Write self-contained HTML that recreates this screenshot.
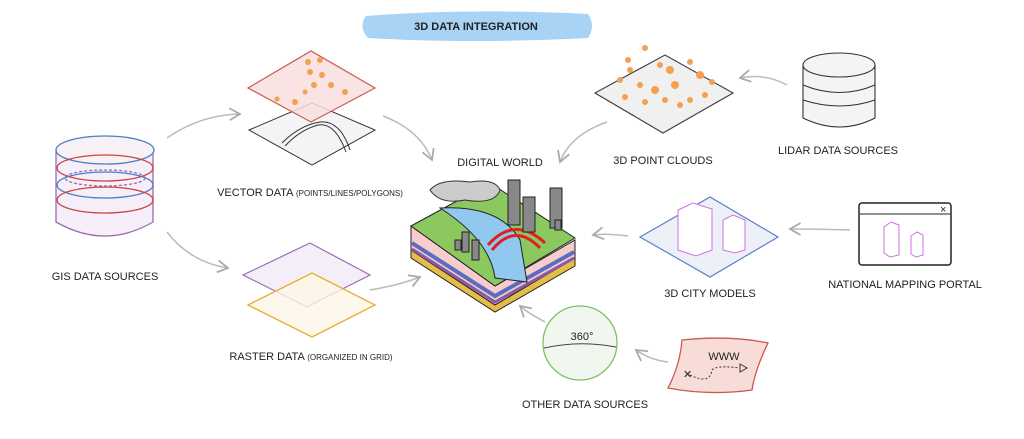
<!DOCTYPE html>
<html><head><meta charset="utf-8"><style>
html,body{margin:0;padding:0;background:#fff;}
svg{display:block}
text{font-family:"Liberation Sans Narrow","Liberation Sans",sans-serif;fill:#222;font-size:11px;}
</style></head><body>
<svg width="1024" height="439" viewBox="0 0 1024 439" xmlns="http://www.w3.org/2000/svg">
<defs>
<marker id="ah" markerWidth="10" markerHeight="10" refX="8" refY="5" orient="auto"><path d="M1,1 L8,5 L1,9" fill="none" stroke="#aaa" stroke-width="1.2"/></marker>
</defs>
<path d="M366,16 Q470,8 588,14 Q596,26 588,38 Q470,44 368,38 Q358,27 366,16Z" fill="#a9d3f5"/>
<text x="476" y="30" text-anchor="middle" font-size="13" font-weight="bold" style="fill:#222">3D DATA INTEGRATION</text>

<g fill="none" stroke="#bbb" stroke-width="1.5" marker-end="url(#ah)">
<path d="M167,138 Q200,115 240,114"/>
<path d="M167,232 Q190,262 228,268"/>
<path d="M383,116 Q420,130 432,160"/>
<path d="M370,290 Q400,285 420,277"/>
<path d="M607,122 Q570,135 560,162"/>
<path d="M787,85 Q765,73 740,78"/>
<path d="M628,236 Q605,233 593,235"/>
<path d="M850,230 Q815,229 790,229"/>
<path d="M668,362 Q650,360 636,350"/>
<path d="M545,322 Q528,313 520,306"/>
</g>

<g fill="#fbeef0" stroke-width="1.3">
<path d="M56,150 L56,222 Q105,250 153,222 L153,150" stroke="#9b6bb5" fill="#f6eef8"/>
<ellipse cx="105" cy="150" rx="49" ry="14" stroke="#4a7fc0" fill="#f7f0f4"/>
<ellipse cx="105" cy="168" rx="48" ry="13" stroke="#c8463d" fill="none"/>
<ellipse cx="105" cy="185" rx="48" ry="13" stroke="#4a7fc0" fill="none"/>
<ellipse cx="105" cy="200" rx="48" ry="13" stroke="#c8463d" fill="none"/>
<ellipse cx="105" cy="178" rx="40" ry="8" stroke="#9b6bb5" fill="none" stroke-dasharray="3 2"/>
</g>
<text x="105" y="280" text-anchor="middle">GIS DATA SOURCES</text>

<path d="M249,130 L312,103 L375,130 L312,165Z" fill="#f4f4f6" stroke="#333" stroke-width="1"/>
<path d="M282,143 Q300,125 320,122 Q340,120 350,150 M285,146 Q300,130 318,125 Q335,122 346,152" fill="none" stroke="#333"/>
<path d="M248,88 L311,51 L375,88 L311,122Z" fill="#f9dede" fill-opacity="0.85" stroke="#c85a50" stroke-width="1.2"/>
<g fill="#f5a050">
<circle cx="308" cy="62" r="3"/><circle cx="320" cy="60" r="3"/><circle cx="310" cy="72" r="3"/><circle cx="322" cy="75" r="3"/><circle cx="331" cy="85" r="3"/><circle cx="314" cy="85" r="3"/><circle cx="345" cy="92" r="3"/><circle cx="295" cy="102" r="3"/><circle cx="277" cy="99" r="2.5"/><circle cx="305" cy="92" r="2.5"/></g>
<text x="310" y="196" text-anchor="middle">VECTOR DATA <tspan font-size="8">(POINTS/LINES/POLYGONS)</tspan></text>

<path d="M243,275 L310,243 L370,275 L307,307Z" fill="#f3eef8" stroke="#9b6bb5" stroke-width="1.2"/>
<path d="M248,305 L312,273 L375,305 L312,337Z" fill="#fdf6e6" fill-opacity="0.8" stroke="#e4b030" stroke-width="1.3"/>
<text x="311" y="360" text-anchor="middle">RASTER DATA <tspan font-size="8">(ORGANIZED IN GRID)</tspan></text>

<text x="500" y="166" text-anchor="middle">DIGITAL WORLD</text>
<g stroke="#222" stroke-width="1">
<path d="M411,226 L411,250 L495,305 L575,258 L575,240 L495,286Z" fill="#f6cccc"/>
<path d="M411,250 L495,305 L575,258 L575,266 L495,312 L411,258Z" fill="#e5bc48"/>
<path d="M412,243 L495,296 L574,252" fill="none" stroke="#5a6ec0" stroke-width="4"/>
<path d="M412,249 L495,302 L574,258" fill="none" stroke="#8a5aa8" stroke-width="3"/>
<path d="M411,226 L490,183 L575,238 L495,286Z" fill="#8cc860"/>
<path d="M440,208 Q500,205 520,240 L527,282 L495,278 Q490,240 440,208Z" fill="#90c8f0"/>
<path d="M488,245 Q515,215 545,243 M492,250 Q515,222 540,248" fill="none" stroke="#e02020" stroke-width="3"/>
<g fill="#888">
<rect x="508" y="180" width="12" height="45"/><rect x="523" y="197" width="12" height="35"/><rect x="550" y="188" width="12" height="40"/>
<rect x="462" y="232" width="7" height="20"/><rect x="472" y="240" width="7" height="20"/><rect x="455" y="240" width="6" height="10"/>
<rect x="555" y="220" width="6" height="10"/></g>
</g>
<path d="M430,190 Q440,178 470,182 Q495,178 500,190 Q495,205 465,200 Q440,205 430,190Z" fill="#ccc" stroke="#333"/>

<path d="M595,93 L665,55 L733,93 L663,133Z" fill="#f0f0f0" stroke="#444" stroke-width="1.2"/>
<g fill="#f5a050">
<circle cx="628" cy="60" r="3"/><circle cx="645" cy="48" r="3"/><circle cx="660" cy="65" r="3"/><circle cx="670" cy="70" r="4"/><circle cx="690" cy="62" r="3"/><circle cx="700" cy="75" r="4"/><circle cx="620" cy="80" r="3"/><circle cx="640" cy="85" r="3"/><circle cx="655" cy="90" r="4"/><circle cx="675" cy="85" r="4"/><circle cx="690" cy="100" r="3"/><circle cx="705" cy="95" r="3"/><circle cx="625" cy="97" r="3"/><circle cx="645" cy="102" r="3"/><circle cx="665" cy="100" r="3"/><circle cx="680" cy="105" r="3"/><circle cx="630" cy="70" r="3"/><circle cx="712" cy="82" r="3"/></g>
<text x="663" y="164" text-anchor="middle">3D POINT CLOUDS</text>

<g fill="#f4f4f4" stroke="#333" stroke-width="1.1">
<path d="M803,65 L803,118 Q840,136 875,118 L875,65" />
<ellipse cx="839" cy="65" rx="36" ry="12"/>
<path d="M803,85 Q840,100 875,85 M803,100 Q840,112 875,100" fill="none"/>
</g>
<text x="838" y="154" text-anchor="middle">LIDAR DATA SOURCES</text>

<path d="M640,237 L710,197 L778,237 L710,277Z" fill="#eef0f8" stroke="#5a80c8" stroke-width="1.2"/>
<g fill="#fff" stroke="#d070e0">
<path d="M678,210 L693,203 L712,209 L712,250 L696,256 L678,250Z"/><path d="M723,220 L733,215 L745,220 L745,250 L735,253 L723,250Z"/></g>
<text x="710" y="297" text-anchor="middle">3D CITY MODELS</text>

<rect x="859" y="203" width="92" height="62" rx="3" fill="#fff" stroke="#222" stroke-width="1.5"/>
<line x1="860" y1="214" x2="950" y2="214" stroke="#222"/>
<text x="940" y="213" font-size="9">×</text>
<g fill="none" stroke="#d070e0"><path d="M884,227 L891,222 L899,225 L899,255 L890,257 L884,253Z"/><path d="M911,236 L917,232 L923,235 L923,255 L916,257 L911,254Z"/></g>
<text x="905" y="288" text-anchor="middle">NATIONAL MAPPING PORTAL</text>

<circle cx="580" cy="343" r="37" fill="#f1f7ee" stroke="#7cc060" stroke-width="1.3"/>
<path d="M544,348 Q580,340 616,347" fill="none" stroke="#444"/>
<text x="582" y="340" text-anchor="middle">360°</text>
<text x="585" y="408" text-anchor="middle">OTHER DATA SOURCES</text>

<path d="M682,340 Q730,335 768,343 Q755,370 752,390 Q710,396 668,388 Q680,365 682,340Z" fill="#f8dcd8" stroke="#c85a50" stroke-width="1.3"/>
<text x="724" y="360" text-anchor="middle">WWW</text>
<path d="M690,375 Q710,385 712,370 Q716,365 740,368" fill="none" stroke="#333" stroke-dasharray="2 2"/>
<path d="M740,364 L747,368 L740,372Z" fill="none" stroke="#333"/>
<text x="683" y="378" font-size="10">✕</text>
</svg>
</body></html>
